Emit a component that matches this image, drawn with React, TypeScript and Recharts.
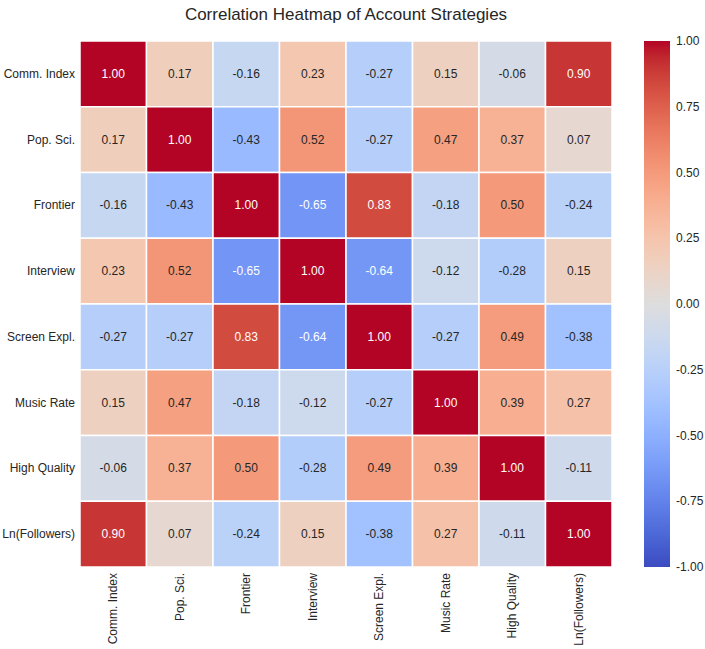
import React from 'react';
import {
  ScatterChart,
  Scatter,
  XAxis,
  YAxis,
  BarChart,
  Bar,
} from 'recharts';

const strategies = [
  'Comm. Index',
  'Pop. Sci.',
  'Frontier',
  'Interview',
  'Screen Expl.',
  'Music Rate',
  'High Quality',
  'Ln(Followers)',
];

const commIndex = [1.0, 0.17, -0.16, 0.23, -0.27, 0.15, -0.06, 0.9];
const popSci = [0.17, 1.0, -0.43, 0.52, -0.27, 0.47, 0.37, 0.07];
const frontier = [-0.16, -0.43, 1.0, -0.65, 0.83, -0.18, 0.5, -0.24];
const interview = [0.23, 0.52, -0.65, 1.0, -0.64, -0.12, -0.28, 0.15];
const screenExpl = [-0.27, -0.27, 0.83, -0.64, 1.0, -0.27, 0.49, -0.38];
const musicRate = [0.15, 0.47, -0.18, -0.12, -0.27, 1.0, 0.39, 0.27];
const highQuality = [-0.06, 0.37, 0.5, -0.28, 0.49, 0.39, 1.0, -0.11];
const lnFollowers = [0.9, 0.07, -0.24, 0.15, -0.38, 0.27, -0.11, 1.0];

const colorbarTicks = [-1, -0.75, -0.5, -0.25, 0, 0.25, 0.5, 0.75, 1];

const rows = [commIndex, popSci, frontier, interview, screenExpl, musicRate, highQuality, lnFollowers];

// matplotlib "coolwarm", sampled at 33 evenly spaced stops
const COOLWARM: [number, number, number][] = [
  [59, 76, 192], [68, 90, 204], [77, 104, 215], [87, 117, 225], [98, 130, 234],
  [108, 142, 241], [119, 154, 247], [130, 165, 251], [141, 176, 254], [152, 185, 255],
  [163, 194, 255], [174, 201, 253], [184, 208, 249], [194, 213, 244], [204, 217, 238],
  [213, 219, 230], [221, 221, 221], [229, 216, 209], [236, 211, 197], [241, 204, 184],
  [245, 196, 173], [247, 187, 160], [247, 177, 148], [247, 166, 135], [244, 154, 123],
  [241, 141, 111], [236, 127, 99], [229, 112, 88], [222, 96, 77], [213, 80, 66],
  [203, 62, 56], [192, 40, 47], [180, 4, 38],
];

const coolwarmRgb = (v: number): [number, number, number] => {
  const t = Math.max(0, Math.min(1, (v + 1) / 2)) * (COOLWARM.length - 1);
  const i = Math.min(Math.floor(t), COOLWARM.length - 2);
  const f = t - i;
  const a = COOLWARM[i];
  const b = COOLWARM[i + 1];
  return [0, 1, 2].map((k) => Math.round(a[k] + (b[k] - a[k]) * f)) as [number, number, number];
};

const coolwarm = (v: number) => {
  const [r, g, b] = coolwarmRgb(v);
  return `rgb(${r},${g},${b})`;
};

// light text on dark cells, same rule seaborn uses for annotations
const textColor = (v: number) => {
  const lin = coolwarmRgb(v).map((c) => {
    const s = c / 255;
    return s <= 0.03928 ? s / 12.92 : Math.pow((s + 0.055) / 1.055, 2.4);
  });
  const lum = 0.2126 * lin[0] + 0.7152 * lin[1] + 0.0722 * lin[2];
  return lum > 0.408 ? '#262626' : '#ffffff';
};

const cells = rows.flatMap((vals, r) =>
  vals.map((v, c) => ({ x: c + 0.5, y: r + 0.5, v })),
);

const centers = strategies.map((_, i) => i + 0.5);

const WIDTH = 705;
const HEIGHT = 649;
const MARGIN = { top: 41, right: 93, bottom: 0, left: 0 };
const Y_AXIS_W = 80;
const X_AXIS_H = 82;
const CELL_W = (WIDTH - MARGIN.right - Y_AXIS_W) / strategies.length;
const CELL_H = (HEIGHT - MARGIN.top - X_AXIS_H) / strategies.length;

const FONT = '"Liberation Sans", Arial, sans-serif';

const HeatCell = (props: any) => {
  const { cx, cy, payload } = props;
  return (
    <g>
      <rect
        x={cx - CELL_W / 2}
        y={cy - CELL_H / 2}
        width={CELL_W}
        height={CELL_H}
        fill={coolwarm(payload.v)}
        stroke="#ffffff"
        strokeWidth={1.5}
      />
      <text
        x={cx}
        y={cy}
        textAnchor="middle"
        dominantBaseline="central"
        fontSize={12}
        fontFamily={FONT}
        fill={textColor(payload.v)}
      >
        {payload.v.toFixed(2)}
      </text>
    </g>
  );
};

const XTick = (props: any) => {
  const { x, y, payload } = props;
  const label = strategies[Math.floor(payload.value)];
  const ty = y - 2;
  return (
    <text
      x={x}
      y={ty}
      transform={`rotate(-90, ${x}, ${ty})`}
      textAnchor="end"
      dominantBaseline="central"
      fontSize={12}
      fontFamily={FONT}
      fill="#262626"
    >
      {label}
    </text>
  );
};

const YTick = (props: any) => {
  const { x, y, payload } = props;
  const label = strategies[Math.floor(payload.value)];
  return (
    <text
      x={x + 3}
      y={y}
      textAnchor="end"
      dominantBaseline="central"
      fontSize={12}
      fontFamily={FONT}
      fill="#262626"
    >
      {label}
    </text>
  );
};

const BarTick = (props: any) => {
  const { x, y, payload } = props;
  return (
    <text
      x={x - 2}
      y={y}
      textAnchor="start"
      dominantBaseline="central"
      fontSize={12}
      fontFamily={FONT}
      fill="#262626"
    >
      {payload.value.toFixed(2)}
    </text>
  );
};

// stops run top (+1) to bottom (-1), offsets ascending
const gradientStops = COOLWARM.map((_, i) => {
  const t = i / (COOLWARM.length - 1);
  return { offset: `${t * 100}%`, color: coolwarm(1 - 2 * t) };
});

const colorbarData = [{ name: 'scale', range: [-1, 1] }];

export default function App() {
  return (
    <div
      style={{
        position: 'absolute',
        left: 0,
        top: 0,
        width: WIDTH,
        height: HEIGHT,
        background: '#ffffff',
        fontFamily: FONT,
      }}
    >
      <div
        style={{
          position: 'absolute',
          left: Y_AXIS_W,
          width: WIDTH - MARGIN.right - Y_AXIS_W,
          top: 5,
          textAlign: 'center',
          fontSize: 17,
          color: '#262626',
        }}
      >
        Correlation Heatmap of Account Strategies
      </div>

      <div style={{ position: 'absolute', left: 0, top: 0 }}>
        <ScatterChart width={WIDTH} height={HEIGHT} margin={MARGIN}>
          <XAxis
            type="number"
            dataKey="x"
            domain={[0, strategies.length]}
            ticks={centers}
            interval={0}
            height={X_AXIS_H}
            axisLine={false}
            tickLine={false}
            tick={<XTick />}
          />
          <YAxis
            type="number"
            dataKey="y"
            domain={[0, strategies.length]}
            ticks={centers}
            interval={0}
            reversed
            width={Y_AXIS_W}
            axisLine={false}
            tickLine={false}
            tick={<YTick />}
          />
          <Scatter data={cells} shape={<HeatCell />} isAnimationActive={false} />
        </ScatterChart>
      </div>

      <div style={{ position: 'absolute', left: 644, top: 0 }}>
        <BarChart
          width={61}
          height={HEIGHT}
          data={colorbarData}
          margin={{ top: 41, right: 0, bottom: 82, left: 0 }}
          barCategoryGap={0}
        >
          <defs>
            <linearGradient id="coolwarmBar" x1="0" y1="0" x2="0" y2="1">
              {gradientStops.map((s) => (
                <stop key={s.offset} offset={s.offset} stopColor={s.color} />
              ))}
            </linearGradient>
          </defs>
          <XAxis dataKey="name" hide />
          <YAxis
            orientation="right"
            type="number"
            domain={[-1, 1]}
            ticks={colorbarTicks}
            interval={0}
            width={35}
            axisLine={false}
            tickLine={false}
            tick={<BarTick />}
          />
          <Bar dataKey="range" fill="url(#coolwarmBar)" isAnimationActive={false} />
        </BarChart>
      </div>
    </div>
  );
}
